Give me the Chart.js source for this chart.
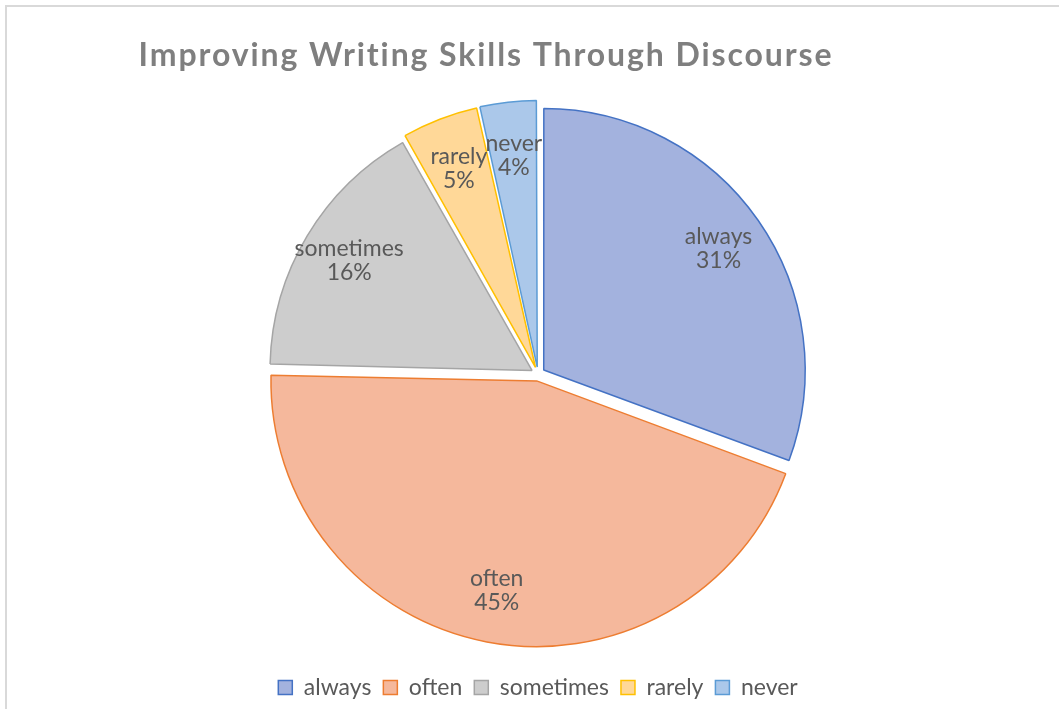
<!DOCTYPE html>
<html><head><meta charset="utf-8">
<script src="https://cdn.jsdelivr.net/npm/chart.js@4.4.0/dist/chart.umd.min.js"></script>
<style>html,body{margin:0;padding:0;background:#fff;overflow:hidden}
#wrap{position:absolute;left:0;top:0;width:1059px;height:709px}
</style></head><body><div id="wrap"><canvas id="c" width="1059" height="709"></canvas></div>
<script>
const categories = ['always', 'often', 'sometimes', 'rarely', 'never'];
const shares = [30.6, 44.7, 16.4, 4.7, 3.5];
const titleText = 'Improving Writing Skills Through Discourse';

const fillColors = ['#A3B2DE', '#F5B89C', '#CDCDCD', '#FFD898', '#ABC8EA'];
const edgeColors = ['#4472C4', '#ED7D31', '#A5A5A5', '#FFC000', '#5B9BD5'];

const frameTitlePlugin = {
  id: 'frameTitle',
  beforeDraw(chart) {
    const ctx = chart.ctx;
    ctx.save();
    ctx.fillStyle = '#fff';
    ctx.fillRect(0, 0, chart.width, chart.height);
    ctx.strokeStyle = '#D9D9D9';
    ctx.lineWidth = 2;
    ctx.beginPath();
    ctx.moveTo(6, chart.height + 5);
    ctx.lineTo(6, 6);
    ctx.lineTo(chart.width + 5, 6);
    ctx.stroke();
    ctx.font = 'bold 32px Lato';
    ctx.letterSpacing = '1.9px';
    ctx.fillStyle = '#7F7F7F';
    ctx.textAlign = 'center';
    ctx.textBaseline = 'alphabetic';
    ctx.fillText(titleText, 486, 66);
    ctx.restore();
  }
};

const sliceLabelPlugin = {
  id: 'sliceLabels',
  afterDatasetsDraw(chart) {
    const ctx = chart.ctx;
    const meta = chart.getDatasetMeta(0);
    const ds = chart.data.datasets[0];
    const total = ds.data.reduce((a, b) => a + b, 0);
    ctx.save();
    ctx.font = '23px Lato';
    ctx.fillStyle = '#595959';
    ctx.textAlign = 'center';
    ctx.textBaseline = 'middle';
    meta.data.forEach((arc, i) => {
      const p = arc.getProps(['x', 'y', 'startAngle', 'endAngle', 'outerRadius'], true);
      const mid = (p.startAngle + p.endAngle) / 2;
      const shift = (arc.options.offset || 0) / 4;
      const d = shift + 263 * 0.81;
      const cx = p.x + Math.cos(mid) * d;
      const cy = p.y + Math.sin(mid) * d;
      const pct = Math.round(ds.data[i] / total * 100) + '%';
      ctx.fillText(chart.data.labels[i], cx, cy - 12);
      ctx.fillText(pct, cx, cy + 12);
    });
    ctx.restore();
  }
};

new Chart(document.getElementById('c'), {
  type: 'pie',
  data: {
    labels: categories,
    datasets: [{
      data: shares,
      backgroundColor: fillColors,
      borderColor: edgeColors,
      borderWidth: 1.5,
      offset: 28,
      radius: 261
    }]
  },
  options: {
    responsive: false,
    animation: false,
    events: [],
    layout: { padding: { top: 84, left: 17, right: 0, bottom: 0 } },
    plugins: {
      title: { display: false },
      tooltip: { enabled: false },
      legend: {
        position: 'bottom',
        labels: {
          font: { family: 'Lato', size: 23 },
          color: '#595959',
          boxWidth: 14,
          boxHeight: 14,
          padding: 12
        }
      }
    }
  },
  plugins: [frameTitlePlugin, sliceLabelPlugin]
});
</script></body></html>
